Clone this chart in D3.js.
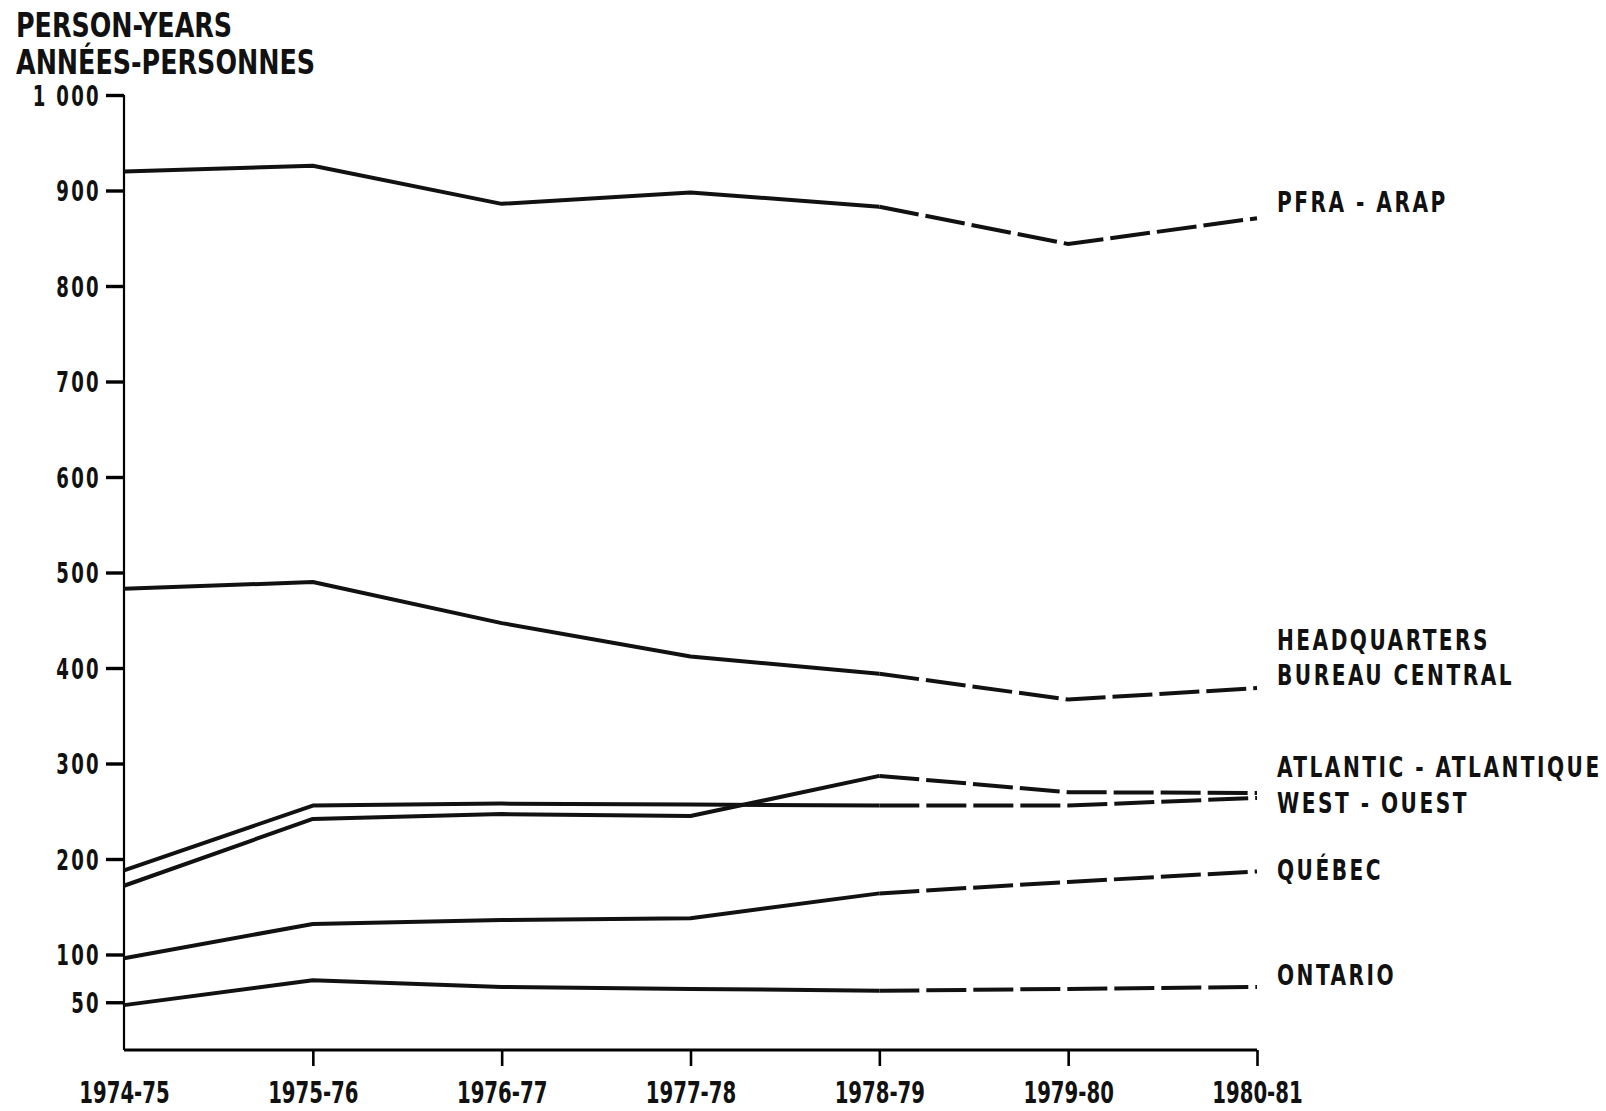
<!DOCTYPE html>
<html>
<head>
<meta charset="utf-8">
<script src="https://cdn.jsdelivr.net/npm/d3@7"></script>
<style>
  body { margin: 0; background: #fff; }
  svg text { font-family: "DejaVu Sans", sans-serif; font-stretch: condensed; font-weight: bold; fill: #111; }
</style>
</head>
<body>
<div id="chart"></div>
<script>
// fiscal years on the x axis
const years = ["1974-75", "1975-76", "1976-77", "1977-78", "1978-79", "1979-80", "1980-81"];
const yTicks = [50, 100, 200, 300, 400, 500, 600, 700, 800, 900, 1000];

// person-years per region (1978-79 onward is drawn dashed)
const pfra = [920, 926, 886, 898, 883, 844, 871];
const headquarters = [483, 490, 447, 412, 394, 367, 379];
const atlantic = [172, 242, 247, 245, 287, 270, 269];
const west = [188, 256, 258, 257, 256, 256, 264];
const quebec = [96, 132, 136, 138, 164, 176, 187];
const ontario = [47, 73, 66, 64, 62, 64, 66];

const seriesNames = [["PFRA - ARAP"], ["HEADQUARTERS", "BUREAU CENTRAL"], ["ATLANTIC - ATLANTIQUE"], ["WEST - OUEST"], ["QUÉBEC"], ["ONTARIO"]];
const seriesValues = [pfra, headquarters, atlantic, west, quebec, ontario];
const forecastFrom = 4;

const width = 1606, height = 1111;
const margin = { top: 95, right: 349, bottom: 61, left: 124 };

// squeeze text horizontally around its anchor x (narrow typewriter-ish face)
function squeeze(sel, s) {
    sel.each(function() {
        const x0 = +this.getAttribute("x") || 0;
        d3.select(this).attr("transform", `translate(${x0},0) scale(${s},1) translate(${-x0},0)`);
    });
}

const x = d3.scalePoint()
    .domain(years)
    .range([margin.left, width - margin.right]);

const y = d3.scaleLinear()
    .domain([0, 1000])
    .range([height - margin.bottom, margin.top]);

const svg = d3.select("#chart")
    .append("svg")
    .attr("width", width)
    .attr("height", height);

// y axis
const yAxis = svg.append("g")
    .attr("transform", `translate(${margin.left},0)`)
    .call(d3.axisLeft(y).tickValues(yTicks).tickSize(18).tickPadding(5)
        .tickFormat(d => d === 1000 ? "1 000" : d3.format("d")(d)));
yAxis.select(".domain").attr("d", `M0,${y(1000)}V${y(0)}`).attr("stroke-width", 2.2);
yAxis.selectAll(".tick line").attr("stroke-width", 3.4);
yAxis.selectAll(".tick text")
    .style("font-size", "28px")
    .style("letter-spacing", "3.2px")
    .attr("dy", "0.36em")
    .call(squeeze, 0.72);

// x axis
const xAxis = svg.append("g")
    .attr("transform", `translate(0,${y(0)})`)
    .call(d3.axisBottom(x).tickSize(16));
xAxis.select(".domain").attr("d", `M${x(years[0])},0H${x(years[years.length - 1])}`).attr("stroke-width", 2.8);
xAxis.selectAll(".tick line").attr("stroke-width", 2.6).filter(d => d === years[0]).remove();
xAxis.selectAll(".tick text")
    .style("font-size", "30px")
    .attr("y", 53)
    .attr("dy", 0)
    .call(squeeze, 0.73);

// axis title
svg.append("text")
    .attr("x", 16)
    .attr("y", 37)
    .style("font-size", "34px")
    .text("PERSON-YEARS")
    .call(squeeze, 0.83);
svg.append("text")
    .attr("x", 16)
    .attr("y", 74)
    .style("font-size", "34px")
    .text("ANNÉES-PERSONNES")
    .call(squeeze, 0.83);

const line = d3.line()
    .x(d => x(d.year))
    .y(d => y(d.value));

seriesValues.forEach((vals, i) => {
    const pts = vals.map((v, j) => ({ year: years[j], value: v }));
    svg.append("path")
        .datum(pts.slice(0, forecastFrom + 1))
        .attr("d", line)
        .attr("fill", "none")
        .attr("stroke", "#111")
        .attr("stroke-width", 4)
        .attr("stroke-linejoin", "round");
    svg.append("path")
        .datum(pts.slice(forecastFrom))
        .attr("d", line)
        .attr("fill", "none")
        .attr("stroke", "#111")
        .attr("stroke-width", 4)
        .attr("stroke-dasharray", "40,7");
});

// series labels on the right
const labelBaselines = [212, 650, 777, 813, 880, 985];
const labelX = x(years[years.length - 1]) + 20;
seriesNames.forEach((lines, i) => {
    const t = svg.append("text")
        .attr("x", labelX)
        .attr("y", labelBaselines[i])
        .style("font-size", "28px")
        .style("letter-spacing", "3.1px");
    lines.forEach((l, k) => {
        t.append("tspan")
            .attr("x", labelX)
            .attr("dy", k === 0 ? 0 : 35)
            .text(l);
    });
    t.call(squeeze, 0.8);
});
</script>
</body>
</html>
